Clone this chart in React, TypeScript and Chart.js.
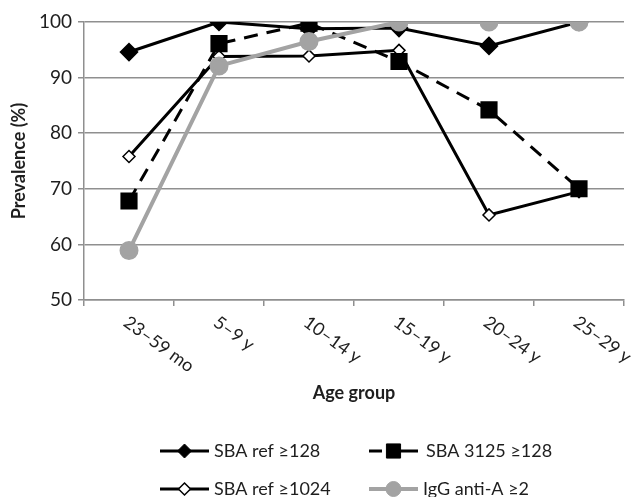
import { useEffect, useRef } from "react";
import { Chart, registerables } from "chart.js";
Chart.register(...registerables);

const categories = ["23–59 mo", "5–9 y", "10–14 y", "15–19 y", "20–24 y", "25–29 y"];
const sbaRef128 = [94.6, 100, 98.8, 98.9, 95.7, 100];
const sba3125 = [67.8, 96.1, 99.8, 92.9, 84.2, 70];
const sbaRef1024 = [75.8, 93.8, 93.9, 94.9, 65.3, 69.5];
const iggAntiA = [58.9, 92.1, 96.5, 100, 100, 100];
const seriesNames = ["SBA ref ≥128", "SBA 3125 ≥128", "SBA ref ≥1024", "IgG anti-A ≥2"];
const yMin = 50;
const yMax = 100;
const yStep = 10;

const FONT = "Lato, 'DejaVu Sans', sans-serif";
const GRAY = "#a3a3a3";
const GRID = "#8f8f8f";
const TEXT = "#1e1e1e";

type MarkerStyle = "rectRot" | "rect" | "circle";

function drawMarker(
  ctx: CanvasRenderingContext2D,
  style: MarkerStyle,
  x: number,
  y: number,
  r: number,
  fill: string,
  stroke: string,
  lw: number
) {
  ctx.save();
  ctx.beginPath();
  if (style === "rectRot") {
    ctx.moveTo(x, y - r);
    ctx.lineTo(x + r, y);
    ctx.lineTo(x, y + r);
    ctx.lineTo(x - r, y);
    ctx.closePath();
  } else if (style === "rect") {
    const s = r * Math.SQRT1_2;
    ctx.rect(x - s, y - s, 2 * s, 2 * s);
  } else {
    ctx.arc(x, y, r, 0, Math.PI * 2);
  }
  ctx.fillStyle = fill;
  ctx.fill();
  ctx.lineWidth = lw;
  ctx.strokeStyle = stroke;
  ctx.stroke();
  ctx.restore();
}

const customText = {
  id: "customText",
  afterDraw(chart: any) {
    const ctx: CanvasRenderingContext2D = chart.ctx;
    const xs = chart.scales.x;
    const yBottom = chart.chartArea.bottom;
    ctx.save();
    ctx.fillStyle = TEXT;
    ctx.font = `18px ${FONT}`;
    ctx.textAlign = "left";
    ctx.textBaseline = "top";
    categories.forEach((c, i) => {
      const px = xs.getPixelForValue(i);
      ctx.save();
      ctx.translate(px + 2, yBottom + 13);
      ctx.rotate((36 * Math.PI) / 180);
      ctx.fillText(c, 0, 0);
      ctx.restore();
    });
    ctx.restore();

    // legend
    const items = [
      { name: seriesNames[0], col: 0, row: 0, color: "#000", dashed: false, marker: "rectRot" as MarkerStyle, r: 7, fill: "#000", lw: 3 },
      { name: seriesNames[1], col: 1, row: 0, color: "#000", dashed: true, marker: "rect" as MarkerStyle, r: 10, fill: "#000", lw: 3 },
      { name: seriesNames[2], col: 0, row: 1, color: "#000", dashed: false, marker: "rectRot" as MarkerStyle, r: 6, fill: "#fff", lw: 3 },
      { name: seriesNames[3], col: 1, row: 1, color: GRAY, dashed: false, marker: "circle" as MarkerStyle, r: 7.5, fill: GRAY, lw: 4 },
    ];
    const colX = [160, 369];
    const rowY = [451, 489];
    items.forEach((it) => {
      const x0 = colX[it.col];
      const x1 = x0 + 49;
      const y = rowY[it.row];
      const cx = (x0 + x1) / 2;
      ctx.save();
      ctx.strokeStyle = it.color;
      ctx.lineWidth = it.lw;
      ctx.beginPath();
      if (it.dashed) {
        ctx.moveTo(x0, y);
        ctx.lineTo(x0 + 13, y);
        ctx.moveTo(cx, y);
        ctx.lineTo(x1, y);
      } else {
        ctx.moveTo(x0, y);
        ctx.lineTo(x1, y);
      }
      ctx.stroke();
      ctx.restore();
      drawMarker(ctx, it.marker, cx, y, it.r, it.fill, it.color, it.marker === "rectRot" && it.fill === "#fff" ? 1.5 : 1);
      ctx.save();
      ctx.fillStyle = TEXT;
      ctx.font = `18px ${FONT}`;
      ctx.textAlign = "left";
      ctx.textBaseline = "middle";
      ctx.fillText(it.name, x1 + (it.col === 1 && it.row === 0 ? 8 : 5), y);
      ctx.restore();
    });
  },
};

export default function App() {
  const ref = useRef<HTMLCanvasElement | null>(null);
  useEffect(() => {
    if (!ref.current) return;
    const chart = new Chart(ref.current, {
      type: "line",
      data: {
        labels: categories,
        datasets: [
          {
            label: seriesNames[0],
            data: sbaRef128,
            borderColor: "#000",
            borderWidth: 3,
            pointStyle: "rectRot",
            pointRadius: 7.5,
            pointBackgroundColor: "#000",
            pointBorderColor: "#000",
            order: 4,
          },
          {
            label: seriesNames[1],
            data: sba3125,
            borderColor: "#000",
            borderWidth: 3,
            borderDash: [14, 9],
            pointStyle: "rect",
            pointRadius: 10,
            pointBackgroundColor: "#000",
            pointBorderColor: "#000",
            order: 2,
          },
          {
            label: seriesNames[2],
            data: sbaRef1024,
            borderColor: "#000",
            borderWidth: 3,
            pointStyle: "rectRot",
            pointRadius: 6,
            pointBackgroundColor: "#fff",
            pointBorderColor: "#000",
            pointBorderWidth: 1.5,
            order: 3,
          },
          {
            label: seriesNames[3],
            data: iggAntiA,
            borderColor: GRAY,
            backgroundColor: GRAY,
            borderWidth: 4,
            pointStyle: "circle",
            pointRadius: 7.5,
            pointBackgroundColor: GRAY,
            pointBorderColor: GRAY,
            order: 1,
          },
        ],
      },
      options: {
        responsive: false,
        animation: false,
        devicePixelRatio: 1,
        layout: { padding: { left: 8, top: 22, right: 9, bottom: 89 } },
        plugins: { legend: { display: false }, tooltip: { enabled: false } },
        scales: {
          x: {
            offset: true,
            grid: {
              offset: true,
              drawOnChartArea: false,
              drawTicks: true,
              tickLength: 6,
              color: GRID,
              lineWidth: 1.5,
            },
            border: { color: GRID, width: 1.5 },
            ticks: { display: false },
            title: {
              display: true,
              text: "Age group",
              color: TEXT,
              font: { family: FONT, size: 18, weight: "bold" },
              padding: { top: 0, bottom: 4 },
            },
            afterFit: (s: any) => {
              s.height = 108;
            },
          },
          y: {
            min: yMin,
            max: yMax,
            ticks: {
              stepSize: yStep,
              color: TEXT,
              font: { family: FONT, size: 19 },
              padding: 6,
            },
            grid: { color: GRID, lineWidth: 1.5, tickLength: 6 },
            border: { color: GRID, width: 1.5 },
            title: {
              display: true,
              text: "Prevalence (%)",
              color: TEXT,
              font: { family: FONT, size: 18, weight: "bold" },
              padding: { top: 0, bottom: 0 },
            },
            afterFit: (s: any) => {
              s.width = 76;
            },
          },
        },
      },
      plugins: [customText],
    });
    return () => chart.destroy();
  }, []);
  return (
    <div style={{ position: "absolute", left: 0, top: 0, width: 637, height: 497, background: "#fff" }}>
      <canvas ref={ref} width={637} height={497} />
    </div>
  );
}
